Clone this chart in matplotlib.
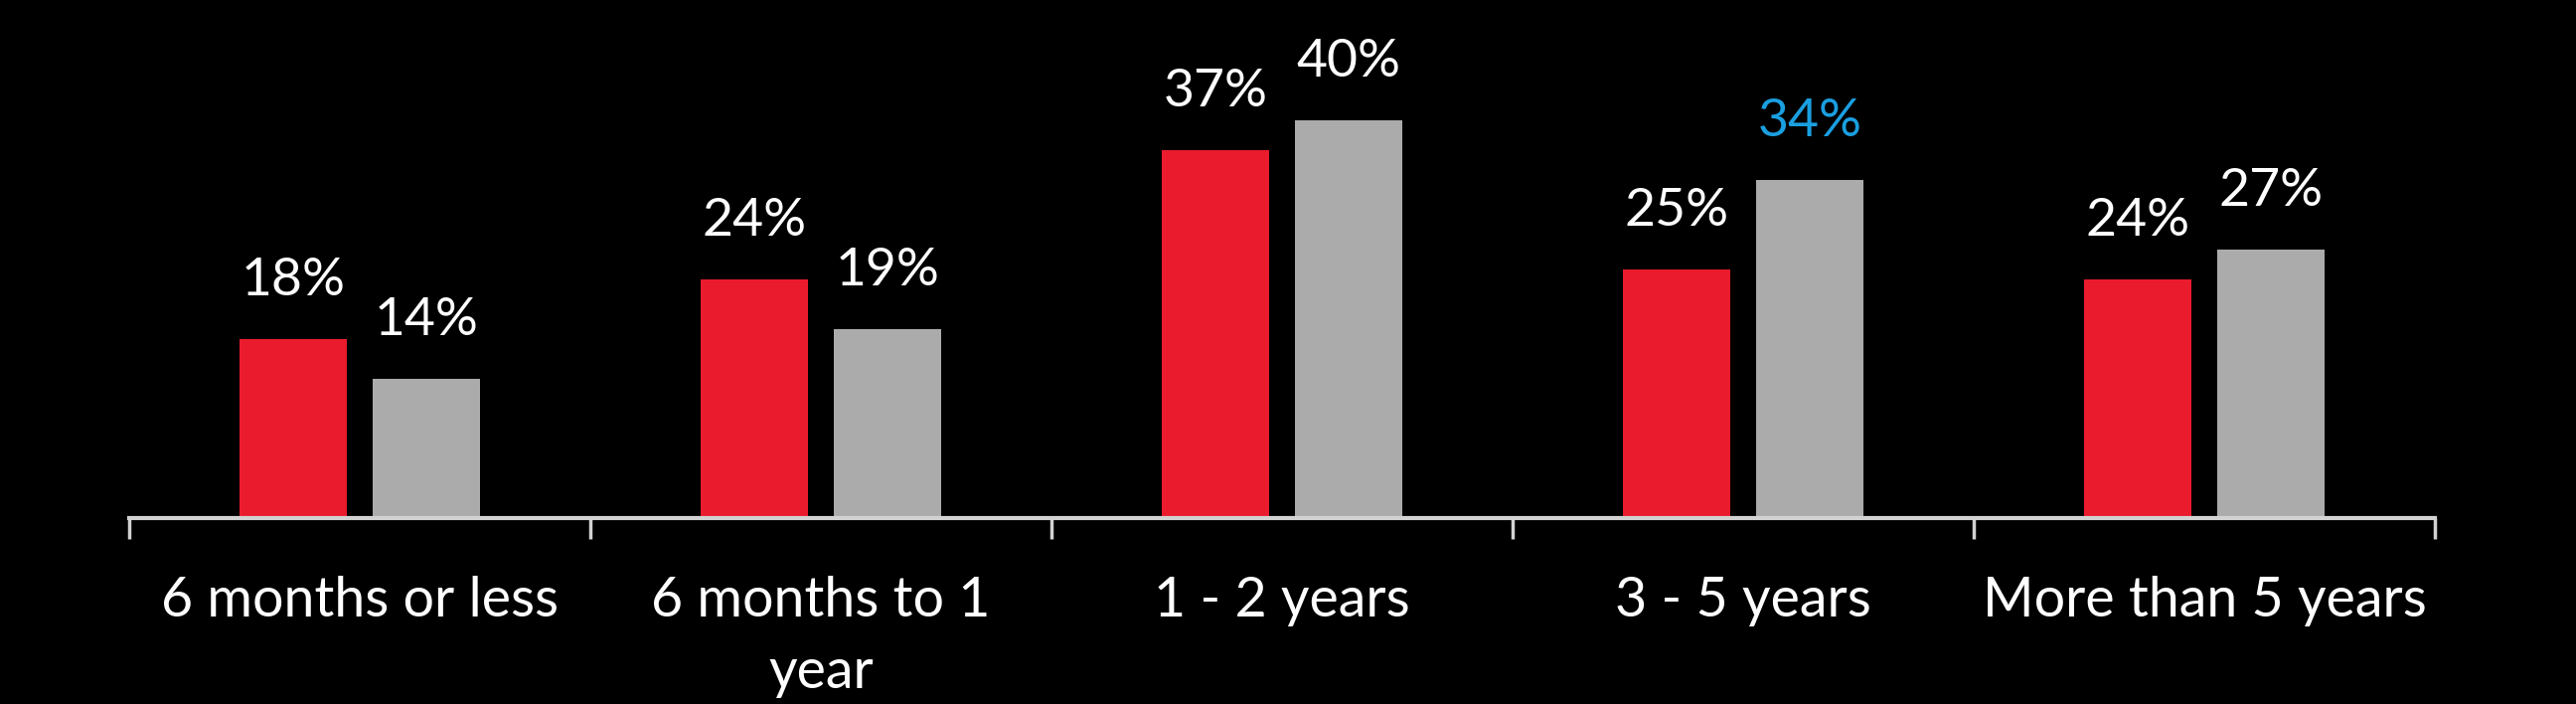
import matplotlib
matplotlib.use('AGG')
import matplotlib.pyplot as plt
import numpy as np

# chart data
categories = ['6 months or less', '6 months to 1\nyear', '1 - 2 years',
              '3 - 5 years', 'More than 5 years']
red_values = [18, 24, 37, 25, 24]
gray_values = [14, 19, 40, 34, 27]
gray_label_colors = ['white', 'white', 'white', '#1A9FE0', 'white']

RED = '#E91B2C'
GRAY = '#ABABAB'
AXIS = '#D2D2D2'

plt.rcParams['font.family'] = ['Lato', 'DejaVu Sans']

W, H = 2592, 708
fig = plt.figure(figsize=(W / 100, H / 100), dpi=100, facecolor='black')

# axes placed so that the baseline sits at y=521 px and 1% = 10 px
x0, x1 = 130, 2450
base = 521
ymax = 45
ax = fig.add_axes([x0 / W, (H - base) / H, (x1 - x0) / W, ymax * 10 / H])
ax.set_facecolor('black')

x = np.arange(len(categories))
width = 0.233
offset = 0.144

ax.bar(x - offset, red_values, width, color=RED, zorder=2)
ax.bar(x + offset, gray_values, width, color=GRAY, zorder=2)

for i in range(len(categories)):
    ax.annotate('{}%'.format(red_values[i]), (x[i] - offset, red_values[i]),
                xytext=(0, 32), textcoords='offset points',
                ha='center', va='baseline', fontsize=38.5, color='white')
    ax.annotate('{}%'.format(gray_values[i]), (x[i] + offset, gray_values[i]),
                xytext=(0, 32), textcoords='offset points',
                ha='center', va='baseline', fontsize=38.5,
                color=gray_label_colors[i])
    # category labels, one line at a time so the first baseline stays put
    for k, line in enumerate(categories[i].split('\n')):
        ax.annotate(line, (x[i], 0), xycoords=('data', 'axes fraction'),
                    xytext=(0, -71 - 52 * k), textcoords='offset points',
                    ha='center', va='baseline', fontsize=40, color='white')

ax.set_xlim(-0.5, len(categories) - 0.5)
ax.set_ylim(0, ymax)

for side in ['top', 'right', 'left']:
    ax.spines[side].set_visible(False)
ax.spines['bottom'].set_color(AXIS)
ax.spines['bottom'].set_linewidth(3)
ax.spines['bottom'].set_zorder(3)

ax.set_yticks([])
ax.set_xticks(np.arange(len(categories) + 1) - 0.5)
ax.set_xticklabels([])
ax.tick_params(axis='x', direction='out', length=15, width=2.5, color=AXIS)

fig.savefig('out.png', dpi=100, facecolor='black')
